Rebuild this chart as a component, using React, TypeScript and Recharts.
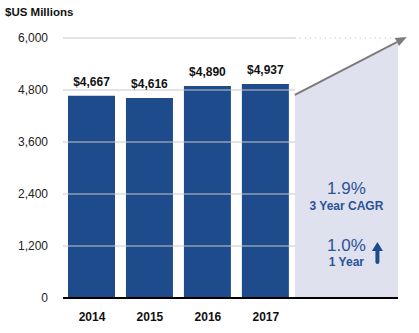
import {
  Area,
  Bar,
  ComposedChart,
  LabelList,
  ReferenceArea,
  ReferenceLine,
  XAxis,
  YAxis,
} from "recharts";

const years = ["2014", "2015", "2016", "2017"];
const revenue = [4667, 4616, 4890, 4937];
const yTicks = [0, 1200, 2400, 3600, 4800, 6000];
// trend wedge on the right (start / end of the arrow, in $M)
const wedgeX = [4, 5.78];
const wedgeY = [4685, 5885];
const arrowEnd = { x: 5.93, y: 6023 };
const cagr = "1.9%";
const oneYear = "1.0%";

const BLUE = "#1d4b8c";
const TEXT_BLUE = "#2b5396";
const X_DOMAIN: [number, number] = [0, 5.78];

const barData = years.map((y, i) => ({ x: i + 0.5, year: y, value: revenue[i] }));
const wedgeData = wedgeX.map((x, i) => ({ x, wedge: wedgeY[i] }));

const fmt = (v: number) => v.toLocaleString("en-US");

function Arrow(props: any) {
  const { x1, y1, x2, y2 } = props;
  if (x1 === undefined) return <g />;
  const ang = Math.atan2(y2 - y1, x2 - x1);
  const len = 11;
  const w = 4.5;
  const bx = x2 - len * Math.cos(ang);
  const by = y2 - len * Math.sin(ang);
  const px = -Math.sin(ang) * w;
  const py = Math.cos(ang) * w;
  return (
    <g>
      <line x1={x1} y1={y1} x2={bx} y2={by} stroke="#7b7b7b" strokeWidth={2} />
      <polygon
        points={`${x2},${y2} ${bx + px},${by + py} ${bx - px},${by - py}`}
        fill="#7b7b7b"
      />
    </g>
  );
}

function CagrNote(props: any) {
  const vb = props.viewBox;
  if (!vb) return null;
  const cx = vb.x + vb.width * 0.5;
  const top = vb.y;
  const ax = cx + 31;
  return (
    <g fontFamily="Liberation Sans, Arial, sans-serif" fill={TEXT_BLUE}>
      <text x={cx} y={top + 156} textAnchor="middle" fontSize={17}>
        {cagr}
      </text>
      <text x={cx} y={top + 171.5} textAnchor="middle" fontSize={12} fontWeight="bold">
        3 Year CAGR
      </text>
      <text x={cx} y={top + 213} textAnchor="middle" fontSize={17}>
        {oneYear}
      </text>
      <text x={cx} y={top + 227.5} textAnchor="middle" fontSize={12} fontWeight="bold">
        1 Year
      </text>
      <polygon
        points={`${ax},${top + 204} ${ax + 5.5},${top + 213} ${ax - 5.5},${top + 213}`}
        fill={BLUE}
      />
      <rect x={ax - 2} y={top + 211} width={4} height={15} rx={2} fill={BLUE} />
    </g>
  );
}

export default function App() {
  return (
    <div
      style={{
        position: "absolute",
        left: 0,
        top: 0,
        width: 419,
        height: 333,
        background: "#fff",
        fontFamily: "Liberation Sans, Arial, sans-serif",
      }}
    >
      <div
        style={{
          position: "absolute",
          left: 5,
          top: 6,
          fontSize: 11.5,
          fontWeight: "bold",
          color: "#111",
        }}
      >
        $US Millions
      </div>
      <ComposedChart
        width={419}
        height={333}
        data={barData}
        margin={{ top: 38, right: 21, bottom: 5, left: 0 }}
      >
        <XAxis
          type="number"
          dataKey="x"
          domain={X_DOMAIN}
          ticks={[0.5, 1.5, 2.5, 3.5]}
          tickFormatter={(v: number) => years[Math.floor(v)]}
          tick={{ fontSize: 12, fontWeight: "bold", fill: "#111" }}
          axisLine={{ stroke: "#000", strokeWidth: 2 }}
          tickLine={false}
          tickMargin={8}
          allowDataOverflow
        />
        <XAxis xAxisId="w" type="number" dataKey="x" domain={X_DOMAIN} hide allowDataOverflow />
        <YAxis
          width={63}
          domain={[0, 6000]}
          ticks={yTicks}
          tickFormatter={fmt}
          tick={{ fontSize: 12, fill: "#222" }}
          axisLine={false}
          tickLine={false}
          tickMargin={9}
        />
        {yTicks.slice(1).map((t) => (
          <ReferenceLine
            key={t}
            xAxisId="w"
            segment={[
              { x: 0, y: t },
              { x: 4, y: t },
            ]}
            stroke="#c9c9c9"
          />
        ))}
        <ReferenceLine
          xAxisId="w"
          segment={[
            { x: 4, y: 6000 },
            { x: arrowEnd.x, y: 6000 },
          ]}
          stroke="#b8b8b8"
          strokeDasharray="1 4"
          ifOverflow="visible"
        />
        <Area
          xAxisId="w"
          data={wedgeData}
          dataKey="wedge"
          type="linear"
          fill="#dfe1ee"
          fillOpacity={1}
          stroke="none"
          isAnimationActive={false}
        />
        <Bar dataKey="value" fill={BLUE} barSize={47} isAnimationActive={false}>
          <LabelList
            dataKey="value"
            position="top"
            offset={10}
            formatter={(v: any) => (v == null ? "" : `$${fmt(v)}`)}
            style={{ fontSize: 12, fontWeight: "bold", fill: "#111" }}
          />
        </Bar>
        <ReferenceArea
          xAxisId="w"
          x1={wedgeX[0]}
          x2={wedgeX[1]}
          y1={0}
          y2={6000}
          fillOpacity={0}
          stroke="none"
          label={(p: any) => <CagrNote {...p} />}
        />
        <ReferenceLine
          xAxisId="w"
          segment={[
            { x: wedgeX[0], y: wedgeY[0] },
            { x: arrowEnd.x, y: arrowEnd.y },
          ]}
          ifOverflow="visible"
          shape={(p: any) => <Arrow {...p} />}
        />
      </ComposedChart>
    </div>
  );
}
